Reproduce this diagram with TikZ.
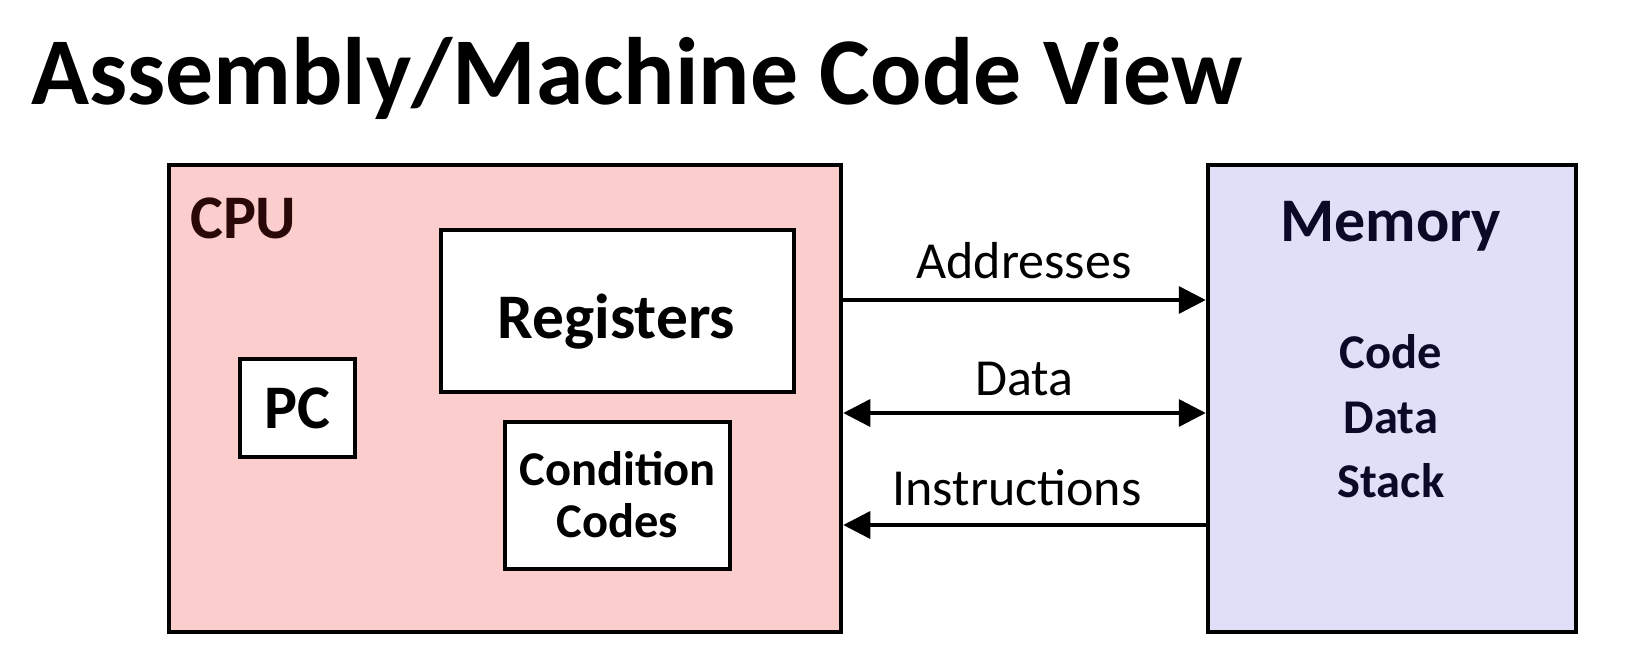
\documentclass[tikz,border=0pt]{standalone}
\usepackage{fontspec}
\setmainfont{Carlito}
\usetikzlibrary{arrows.meta}
\definecolor{cpufill}{HTML}{FCCDCD}
\definecolor{memfill}{HTML}{DFDFF7}
\definecolor{cputext}{HTML}{2A0808}
\definecolor{memtext}{HTML}{0A0A26}
\begin{document}
\begin{tikzpicture}[x=1pt,y=-1pt,
  box/.style={draw=black, line width=4.5pt, inner sep=0pt},
  inbox/.style={draw=black, line width=3.5pt, fill=white, inner sep=0pt},
  lbl/.style={anchor=base, inner sep=0pt},
  big/.style={font=\fontsize{62}{70}\selectfont\bfseries},
  mid/.style={font=\fontsize{48.5}{54}\selectfont\bfseries},
  reg/.style={font=\fontsize{52}{60}\selectfont},
  arr/.style={line width=3.5pt, -{Triangle[length=27pt,width=27pt]}},
  darr/.style={line width=3.5pt, {Triangle[length=27pt,width=27pt]}-{Triangle[length=27pt,width=27pt]}}]
\useasboundingbox[fill=white] (0,0) rectangle (1639,655);
\node[anchor=base west, inner sep=0pt, font=\fontsize{95.7}{110}\selectfont\bfseries] (title) at (31,105) {Assembly/Machine Code View};
% boxes
\node[box, fill=cpufill, minimum width=672pt, minimum height=467pt] (cpu) at (505,398.5) {};
\node[box, fill=memfill, minimum width=368pt, minimum height=467pt] (mem) at (1392,398.5) {};
\node[inbox, minimum width=353pt, minimum height=162pt] (regs) at (617.5,311) {};
\node[lbl, font=\fontsize{63.5}{70}\selectfont\bfseries] (regl) at (616.5,338) {Registers};
\node[inbox, minimum width=115pt, minimum height=98pt, big] (pc) at (297.5,408) {PC};
\node[inbox, minimum width=225pt, minimum height=147pt] (cc) at (617.5,495.5) {};
\node[lbl, mid] (cc1) at (617.5,485.5) {Condition};
\node[lbl, mid] (cc2) at (617.5,537.5) {Codes};
% labels
\node[anchor=base west, inner sep=0pt, big, text=cputext] (cpul) at (190,239) {CPU};
\node[lbl, big, text=memtext] (meml) at (1391,242) {Memory};
\node[lbl, mid, text=memtext] (m1) at (1391,368) {Code};
\node[lbl, mid, text=memtext] (m2) at (1391,433) {Data};
\node[lbl, mid, text=memtext] (m3) at (1391,497) {Stack};
% arrows
\coordinate (ya) at (0,300);
\coordinate (yd) at (0,413);
\coordinate (yi) at (0,525);
\draw[arr] (cpu.east |- ya) -- (mem.west |- ya);
\draw[darr] (cpu.east |- yd) -- (mem.west |- yd);
\draw[arr] (mem.west |- yi) -- (cpu.east |- yi);
\node[lbl, reg] (la) at (1024,278) {Addresses};
\node[lbl, reg] (ld) at (1024.5,395) {Data};
\node[lbl, reg] (li) at (1017,505) {Instructions};
\end{tikzpicture}
\end{document}
